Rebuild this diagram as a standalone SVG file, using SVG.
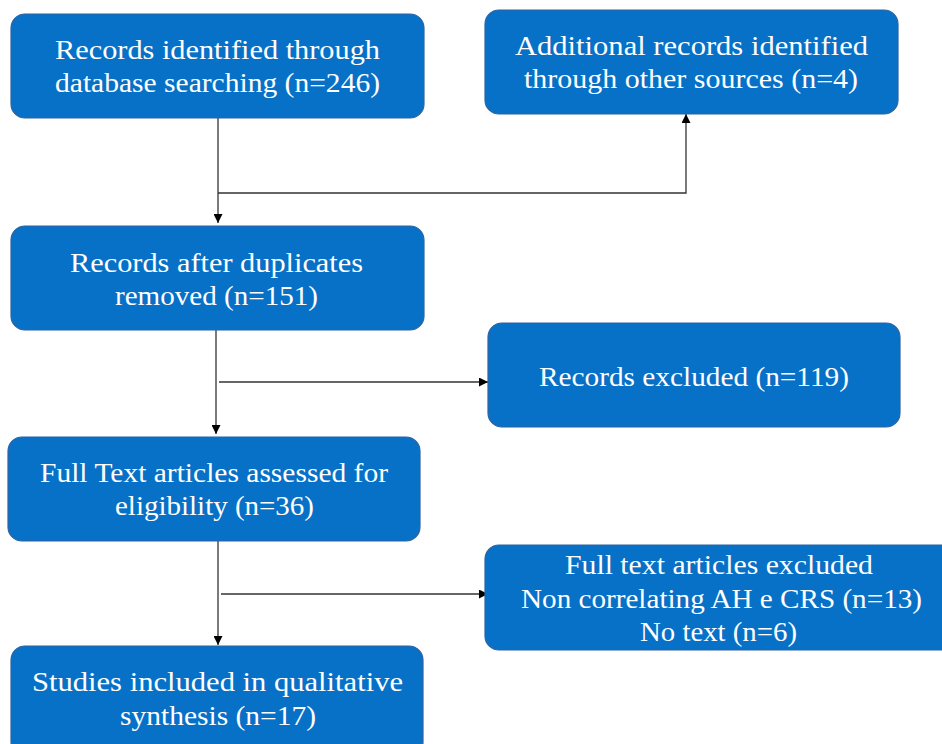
<svg xmlns="http://www.w3.org/2000/svg" width="942" height="744" viewBox="0 0 942 744">
<style>
.box{fill:#0771C7;stroke:#2E64A0;stroke-width:1.2}
.t{font-family:"Liberation Serif","DejaVu Serif",serif;font-size:28px;fill:#ffffff;text-anchor:middle}
.c{fill:none;stroke:#333333;stroke-width:1.3}
</style>
<defs>
<marker id="ah" viewBox="0 0 10 10" refX="10" refY="5" markerWidth="9" markerHeight="9" markerUnits="userSpaceOnUse" orient="auto">
<path d="M0,0 L10,5 L0,10 Z" fill="#000000"/>
</marker>
</defs>
<rect width="942" height="744" fill="#ffffff"/>
<g id="connectors">
<path class="c" d="M218,118 V223" marker-end="url(#ah)"/>
<path class="c" d="M218,193 H686 V114" marker-end="url(#ah)"/>
<path class="c" d="M216,330 V434" marker-end="url(#ah)"/>
<path class="c" d="M219,382 H488" marker-end="url(#ah)"/>
<path class="c" d="M218,541 V645" marker-end="url(#ah)"/>
<path class="c" d="M221,594 H488" marker-end="url(#ah)"/>
</g>
<g id="n1">
<rect class="box" x="11" y="14" width="413" height="104" rx="14"/>
<text class="t" x="217.5" y="59" textLength="325" lengthAdjust="spacingAndGlyphs">Records identified through</text>
<text class="t" x="217.5" y="92" textLength="325" lengthAdjust="spacingAndGlyphs">database searching (n=246)</text>
</g>
<g id="n2">
<rect class="box" x="485" y="10" width="413" height="104" rx="14"/>
<text class="t" x="691.5" y="55" textLength="353" lengthAdjust="spacingAndGlyphs">Additional records identified</text>
<text class="t" x="691" y="88" textLength="334" lengthAdjust="spacingAndGlyphs">through other sources (n=4)</text>
</g>
<g id="n3">
<rect class="box" x="11" y="226" width="413" height="104" rx="14"/>
<text class="t" x="216.5" y="272" textLength="293" lengthAdjust="spacingAndGlyphs">Records after duplicates</text>
<text class="t" x="216.5" y="305" textLength="203" lengthAdjust="spacingAndGlyphs">removed (n=151)</text>
</g>
<g id="n4">
<rect class="box" x="488" y="323" width="412" height="104" rx="14"/>
<text class="t" x="694" y="386" textLength="310" lengthAdjust="spacingAndGlyphs">Records excluded (n=119)</text>
</g>
<g id="n5">
<rect class="box" x="8" y="437" width="412" height="104" rx="14"/>
<text class="t" x="214" y="482" textLength="348" lengthAdjust="spacingAndGlyphs">Full Text articles assessed for</text>
<text class="t" x="214.5" y="515" textLength="199" lengthAdjust="spacingAndGlyphs">eligibility (n=36)</text>
</g>
<g id="n6">
<rect class="box" x="485" y="545" width="470" height="105" rx="14"/>
<text class="t" x="719" y="574" textLength="308" lengthAdjust="spacingAndGlyphs">Full text articles excluded</text>
<text class="t" x="721.5" y="608" textLength="401" lengthAdjust="spacingAndGlyphs">Non correlating AH e CRS (n=13)</text>
<text class="t" x="718.5" y="641" textLength="157" lengthAdjust="spacingAndGlyphs">No text (n=6)</text>
</g>
<g id="n7">
<rect class="box" x="11" y="646" width="412" height="110" rx="14"/>
<text class="t" x="217.5" y="691" textLength="371" lengthAdjust="spacingAndGlyphs">Studies included in qualitative</text>
<text class="t" x="218" y="725" textLength="196" lengthAdjust="spacingAndGlyphs">synthesis (n=17)</text>
</g>
</svg>
